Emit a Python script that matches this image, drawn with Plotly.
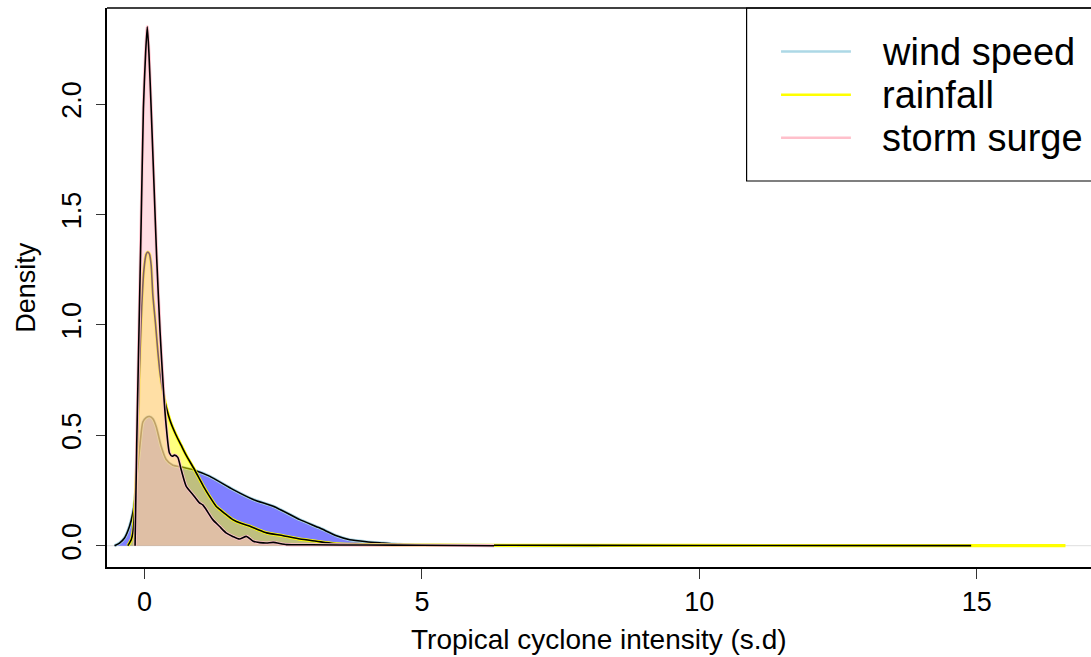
import plotly.graph_objects as go

# Kernel density curves of standardised tropical cyclone intensity
wind_x = [-0.54, -0.45, -0.36, -0.27, -0.21, -0.16, -0.13, -0.08, -0.03, 0.03, 0.09, 0.15, 0.21,
          0.30, 0.39, 0.51, 0.69, 0.90, 1.17, 1.59, 1.96, 2.32, 2.80, 3.16, 3.46, 3.70, 4.00,
          4.30, 4.60, 5.00, 6.00, 8.20]
wind_y = [0.0, 0.012, 0.035, 0.088, 0.148, 0.24, 0.33, 0.46, 0.56, 0.58, 0.585, 0.575, 0.54,
          0.45, 0.39, 0.364, 0.355, 0.342, 0.315, 0.255, 0.209, 0.179, 0.118, 0.080, 0.045,
          0.027, 0.018, 0.012, 0.006, 0.003, 0.001, 0.0]

rain_x = [-0.30, -0.24, -0.21, -0.18, -0.15, -0.12, -0.09, -0.05, -0.01, 0.03, 0.06, 0.09, 0.12,
          0.15, 0.20, 0.24, 0.28, 0.33, 0.39, 0.47, 0.57, 0.66, 0.75, 0.90, 1.06, 1.18, 1.29,
          1.45, 1.59, 1.75, 1.90, 2.05, 2.20, 2.50, 2.80, 3.10, 3.40, 3.80, 4.50, 6.00, 10.0,
          14.9, 16.6]
rain_y = [0.0, 0.027, 0.058, 0.148, 0.30, 0.53, 0.80, 1.08, 1.25, 1.32, 1.33, 1.32, 1.27,
          1.135, 1.0, 0.88, 0.78, 0.70, 0.63, 0.56, 0.50, 0.455, 0.41, 0.345, 0.27, 0.22, 0.179,
          0.145, 0.118, 0.10, 0.088, 0.072, 0.058, 0.045, 0.030, 0.020, 0.010, 0.006, 0.003,
          0.002, 0.001, 0.0005, 0.0]

surge_x = [-0.17, -0.14, -0.10, -0.06, -0.02, 0.02, 0.05, 0.08, 0.12, 0.17, 0.22, 0.28, 0.34,
           0.39, 0.45, 0.50, 0.54, 0.60, 0.66, 0.75, 0.87, 0.99, 1.05, 1.11, 1.23, 1.35, 1.47,
           1.59, 1.71, 1.84, 1.96, 2.08, 2.20, 2.32, 2.56, 3.00, 4.00, 5.00, 6.30]
surge_y = [0.0, 0.46, 0.97, 1.47, 1.98, 2.23, 2.35, 2.23, 1.98, 1.64, 1.30, 0.97, 0.71,
           0.545, 0.42, 0.405, 0.41, 0.40, 0.345, 0.27, 0.232, 0.194, 0.185, 0.164, 0.118,
           0.088, 0.058, 0.042, 0.030, 0.042, 0.020, 0.014, 0.012, 0.015, 0.005, 0.004, 0.003,
           0.002, 0.0]

# (name, x, y, fill colour, halo colour, x where the black outline stops)
series = [
    ("wind speed", wind_x, wind_y, "rgba(0,0,255,0.5)", "#add8e6", None),
    ("rainfall", rain_x, rain_y, "rgba(255,255,0,0.5)", "#ffff00", 14.9),
    ("storm surge", surge_x, surge_y, "rgba(255,192,203,0.5)", "#ffc0cb", None),
]

x_ticks = [0, 5, 10, 15]
y_ticks = [0.0, 0.5, 1.0, 1.5, 2.0]
y_ticklabels = ["0.0", "0.5", "1.0", "1.5", "2.0"]

FONT = "Arial, Liberation Sans, sans-serif"
X_RANGE = [-0.676, 17.06]
Y_RANGE = [-0.0965, 2.435]

fig = go.Figure()

for name, xs, ys, fill, edge, stop in series:
    # filled density with a coloured halo
    fig.add_trace(go.Scatter(
        x=xs, y=ys, mode="lines", fill="tozeroy", fillcolor=fill,
        line=dict(color=edge, width=3.2, shape="spline", smoothing=0.6),
        name=name, showlegend=False, hoverinfo="skip"))
    # black outline
    bx, by = xs, ys
    if stop is not None:
        keep = [i for i, v in enumerate(xs) if v <= stop]
        bx = [xs[i] for i in keep]
        by = [ys[i] for i in keep]
    fig.add_trace(go.Scatter(
        x=bx, y=by, mode="lines",
        line=dict(color="black", width=1.6, shape="spline", smoothing=0.6),
        showlegend=False, hoverinfo="skip"))

shapes = [
    # zero reference line
    dict(type="line", xref="x", yref="y", x0=X_RANGE[0], x1=X_RANGE[1], y0=0, y1=0,
         line=dict(color="#dedede", width=1), layer="below"),
    # top of the frame
    dict(type="line", xref="paper", yref="paper", x0=0, x1=1, y0=1, y1=1,
         line=dict(color="black", width=1.5)),
    # legend box
    dict(type="rect", xref="paper", yref="paper", x0=0.650, x1=1.05, y0=0.6905, y1=1.0,
         line=dict(color="black", width=1.2), fillcolor="rgba(0,0,0,0)"),
]
annotations = []
leg_y = [0.922, 0.845, 0.768]
for (name, _, _, _, edge, _), ly in zip(series, leg_y):
    shapes.append(dict(type="line", xref="paper", yref="paper", x0=0.685, x1=0.756,
                       y0=ly, y1=ly, line=dict(color=edge, width=2.5)))
    annotations.append(dict(text=name, xref="paper", yref="paper", x=0.786, y=ly,
                            xanchor="left", yanchor="middle", showarrow=False,
                            font=dict(family=FONT, size=38, color="black")))

annotations.append(dict(text="Tropical cyclone intensity (s.d)", xref="paper", yref="paper",
                        x=0.5, y=-0.13, xanchor="center", yanchor="middle", showarrow=False,
                        font=dict(family=FONT, size=28, color="black")))
annotations.append(dict(text="Density", xref="paper", yref="paper", x=-0.083, y=0.5,
                        xanchor="center", yanchor="middle", textangle=-90, showarrow=False,
                        font=dict(family=FONT, size=27, color="black")))

fig.update_layout(
    width=1091, height=657,
    margin=dict(l=107, r=0, t=8, b=90),
    paper_bgcolor="white", plot_bgcolor="white",
    shapes=shapes, annotations=annotations,
    xaxis=dict(range=X_RANGE, tickvals=x_ticks, ticks="outside", ticklen=10, tickwidth=1.2,
               tickcolor="#333", showline=True, linecolor="black", linewidth=1.5,
               showgrid=False, zeroline=False,
               tickfont=dict(family=FONT, size=27, color="black")),
    yaxis=dict(range=Y_RANGE, tickvals=y_ticks, ticktext=y_ticklabels, ticks="outside",
               ticklen=9, tickwidth=1.2, tickcolor="#333", tickangle=-90,
               ticklabelstandoff=4,
               showline=True, linecolor="black", linewidth=1.5,
               showgrid=False, zeroline=False,
               tickfont=dict(family=FONT, size=27, color="black")),
)

fig.write_html("out.html")
